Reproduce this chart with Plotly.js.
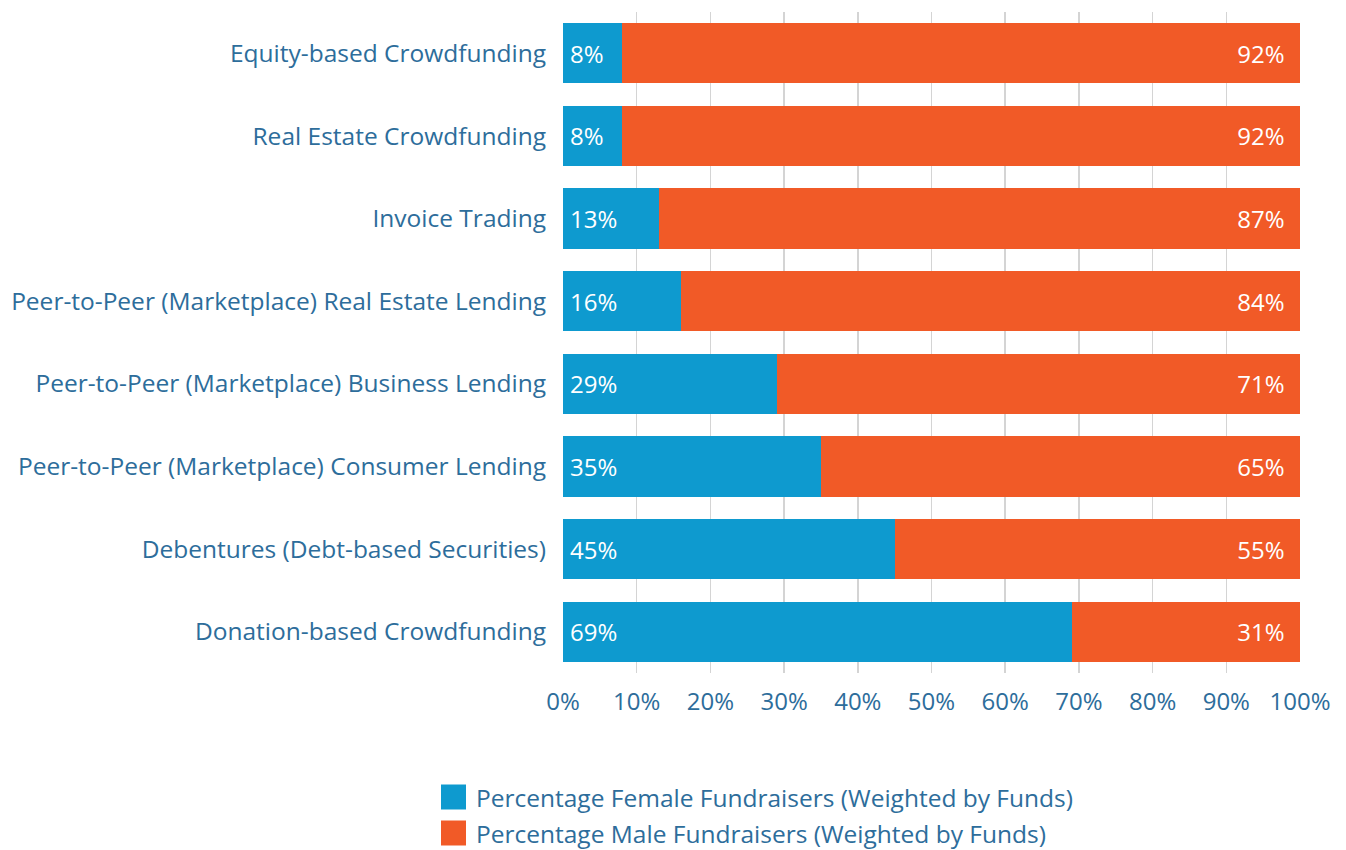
<!DOCTYPE html>
<html>
<head>
<meta charset="utf-8">
<script src="https://cdn.plot.ly/plotly-3.0.1.min.js"></script>
<style>html,body{margin:0;padding:0;background:#fff;}#chart{width:1346px;height:850px;}</style>
</head>
<body>
<div id="chart"></div>
<script>
const categories = [
  "Equity-based Crowdfunding",
  "Real Estate Crowdfunding",
  "Invoice Trading",
  "Peer-to-Peer (Marketplace) Real Estate Lending",
  "Peer-to-Peer (Marketplace) Business Lending",
  "Peer-to-Peer (Marketplace) Consumer Lending",
  "Debentures (Debt-based Securities)",
  "Donation-based Crowdfunding"
];
const femaleValues = [8, 8, 13, 16, 29, 35, 45, 69];
const maleValues = [92, 92, 87, 84, 71, 65, 55, 31];
const xTickValues = [0, 10, 20, 30, 40, 50, 60, 70, 80, 90, 100];
const xTickLabels = ["0%", "10%", "20%", "30%", "40%", "50%", "60%", "70%", "80%", "90%", "100%"];
const seriesNames = ["Percentage Female Fundraisers (Weighted by Funds)", "Percentage Male Fundraisers (Weighted by Funds)"];
const seriesColors = ["#0e9acf", "#f15a27"];

const textColor = "#2d6d9b";
const font = "'Open Sans', 'Noto Sans', sans-serif";

const traces = [
  {
    type: "bar", orientation: "h", name: seriesNames[0],
    y: categories, x: femaleValues,
    marker: {color: seriesColors[0]},
    text: femaleValues.map(v => "\u2009" + v + "%"),
    textposition: "inside", insidetextanchor: "start",
    textfont: {color: "#ffffff", size: 24, family: font},
    hoverinfo: "x+y"
  },
  {
    type: "bar", orientation: "h", name: seriesNames[1],
    y: categories, x: maleValues,
    marker: {color: seriesColors[1]},
    text: maleValues.map(v => v + "%\u00a0\u00a0"),
    textposition: "inside", insidetextanchor: "end",
    textfont: {color: "#ffffff", size: 24, family: font},
    hoverinfo: "x+y"
  }
];

// Legend drawn in paper coordinates (plot area: x 563..1300 px, y 12..673 px)
const plotL = 563, plotW = 737, plotT = 12, plotH = 661;
const px = x => (x - plotL) / plotW;
const py = y => (plotT + plotH - y) / plotH;
const legendRowsY = [797, 833];
const shapes = seriesNames.map((n, i) => ({
  type: "rect", xref: "paper", yref: "paper",
  x0: px(441), x1: px(466), y0: py(legendRowsY[i] + 12.5), y1: py(legendRowsY[i] - 12.5),
  fillcolor: seriesColors[i], line: {width: 0}
}));
const annotations = seriesNames.map((n, i) => ({
  xref: "paper", yref: "paper", x: px(474), y: py(legendRowsY[i]),
  xanchor: "left", yanchor: "middle", showarrow: false, text: n,
  font: {size: 24.5, color: textColor, family: font}
}));

const layout = {
  width: 1346, height: 850,
  margin: {l: 563, r: 46, t: 12, b: 177},
  barmode: "stack",
  bargap: 0.27,
  paper_bgcolor: "#ffffff", plot_bgcolor: "#ffffff",
  font: {family: font, color: textColor, size: 24},
  xaxis: {
    range: [0, 100], tickvals: xTickValues, ticktext: xTickLabels,
    showgrid: true, gridcolor: "#d4d4d4", gridwidth: 1.5,
    zeroline: false, showline: false, ticks: "",
    ticklabelstandoff: 12,
    tickfont: {size: 24, color: textColor, family: font},
    fixedrange: true
  },
  yaxis: {
    autorange: "reversed", showgrid: false, zeroline: false, showline: false,
    ticks: "", ticklabelstandoff: 16,
    tickfont: {size: 24.5, color: textColor, family: font},
    fixedrange: true
  },
  showlegend: false,
  shapes: shapes,
  annotations: annotations
};

Plotly.newPlot("chart", traces, layout, {displayModeBar: false, staticPlot: true});
</script>
</body>
</html>
